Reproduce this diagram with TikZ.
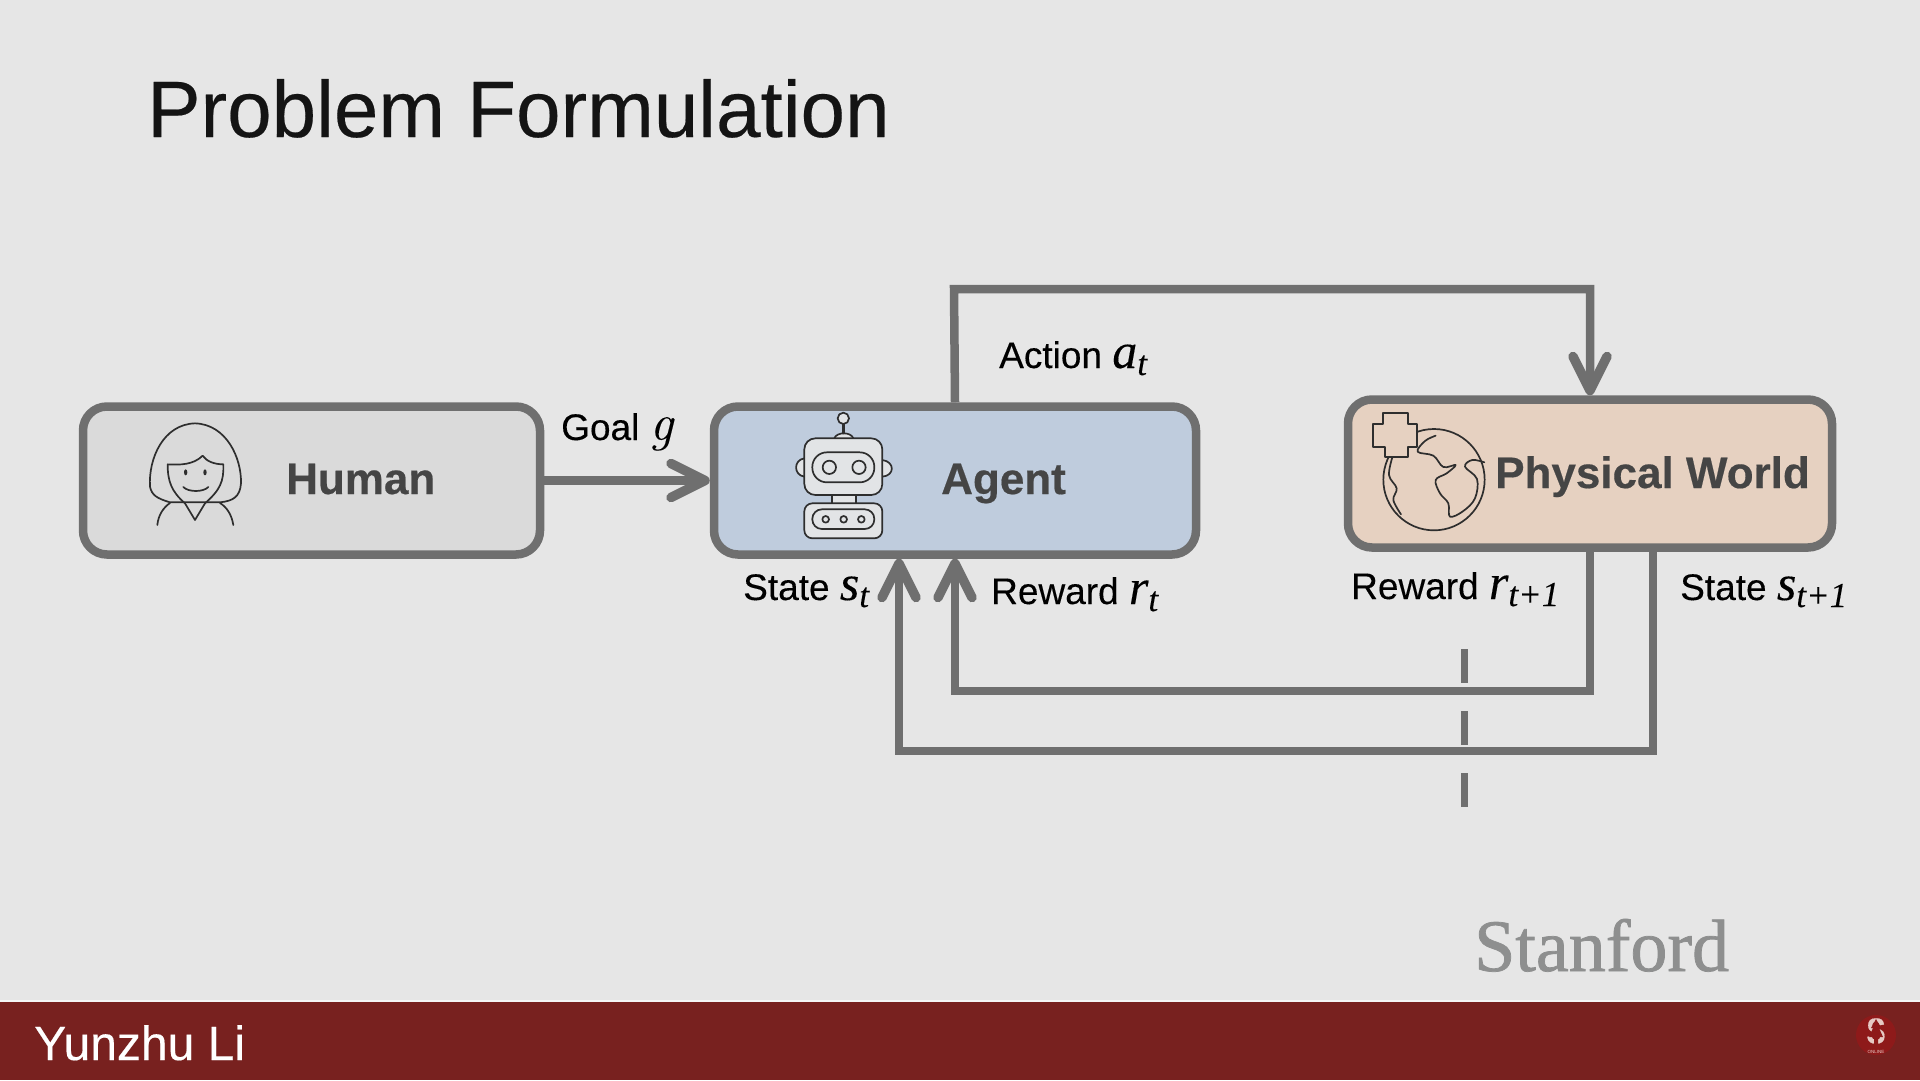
\documentclass[tikz,border=0pt]{standalone}
\usepackage{fontspec}
\setmainfont{Liberation Sans}[FakeBold=0.25]
\newfontfamily\plainsans{Liberation Sans}
\newfontfamily\boldsans{Liberation Sans Bold}[FakeBold=0.4]
\newfontfamily\serf{Liberation Serif}[FakeBold=0.2]
\newfontfamily\stanf{Liberation Serif}[FakeBold=1.0]
\newfontfamily\lmrit{Latin Modern Roman}[FakeBold=0.2]
\usetikzlibrary{arrows.meta}
\definecolor{bgc}{HTML}{E6E6E6}
\definecolor{linec}{HTML}{6F6F6F}
\definecolor{humanf}{HTML}{DADADA}
\definecolor{agentf}{HTML}{BFCCDD}
\definecolor{worldf}{HTML}{E6D1C1}
\definecolor{barc}{HTML}{78211F}
\definecolor{inkc}{HTML}{2E2E2E}
\definecolor{boldc}{HTML}{454545}
\definecolor{robotf}{HTML}{E2E4E6}
\definecolor{logoc}{HTML}{8E1A1A}
\definecolor{logos}{HTML}{E6C9C4}
\definecolor{stanc}{HTML}{8E8F8F}
\newcommand{\fsz}[1]{\fontsize{#1}{#1}\selectfont}
\newcommand{\mvar}[2]{{\serf\itshape\fsz{50}#1}\raisebox{-7pt}{\serf\itshape\fsz{35}#2}}
\tikzset{
  box/.style={draw=linec,line width=8.5pt,rounded corners=24pt,minimum height=148pt,inner sep=0pt},
  conn/.style={draw=linec,line width=8.5pt},
  tip/.style={-{Straight Barb[length=34pt,width=34pt,line width=9.5pt,round]}},
  boxtext/.style={font=\boldsans\fsz{44},text=boldc,anchor=base west,inner sep=0pt},
  lbl/.style={font=\fsz{37},text=black,anchor=base west,inner sep=0pt},
  icon/.style={draw=inkc,line width=1.7pt,line cap=round,line join=round},
}
\begin{document}
\begin{tikzpicture}[x=1pt,y=-1pt]
\useasboundingbox (0,0) rectangle (1920,1080);
\fill[bgc] (0,0) rectangle (1920,1080);
\fill[barc] (0,1002) rectangle (1920,1080);
\fill[white,opacity=.6] (0,1000) rectangle (1920,1002);
\node[font=\fsz{80},anchor=base west,inner sep=0pt,text=black!92] (title) at (147,137) {Problem Formulation};
\node[font=\fsz{48},anchor=base west,inner sep=0pt,text=white] (speaker) at (34,1060) {Yunzhu Li};
\node[font=\stanf\fsz{74},anchor=base west,inner sep=0pt,text=stanc] (stanford) at (1474,971) {Stanford};
\node[circle,fill=logoc,minimum size=40pt,inner sep=0pt] (logo) at (1876,1035) {};
\node[font=\boldsans\fsz{36},text=logos,inner sep=0pt,xscale=.8] (logoS) at (1876,1031) {S};
\fill[logoc] (1876,1019) -- (1881,1028) -- (1879,1028) -- (1883,1037) -- (1878,1037) -- (1878,1045) -- (1874,1045) -- (1874,1037) -- (1869,1037) -- (1873,1028) -- (1871,1028) -- cycle;
\node[font=\plainsans\fsz{4.5},text=logos,inner sep=0pt] (logoT) at (1876,1052) {ONLINE};

\node[box,fill=humanf,minimum width=457pt] (human) at (311.5,480.5) {};
\node[box,fill=agentf,minimum width=482pt] (agent) at (955,480.5) {};
\node[box,fill=worldf,minimum width=484pt] (world) at (1590,473.5) {};

\node[boxtext] (humant) at (286,494) {Human};
\node[boxtext] (agentt) at (941,494) {Agent};
\node[boxtext] (worldt) at (1495,488) {Physical World};

\coordinate (a1) at (954,289);
\coordinate (r1) at (1590,691);
\coordinate (s1) at (1653,751);
\coordinate (d1) at (1464,649);
\coordinate (d2) at (1464,808);
\draw[conn,tip] (human.east) -- (agent.west);
\draw[conn,tip] (agent.north) -- (a1) -| (world.north);
\draw[conn,tip] (world.south) -- (r1) -| (agent.south);
\draw[conn,tip] ([xshift=63pt]world.south) -- (s1) -| ([xshift=-56pt]agent.south);
\draw[conn,line width=7pt,dash pattern=on 34pt off 28pt] (d1) -- (d2);

\node[lbl] (lgoal) at (561,440) {Goal {\lmrit\itshape\fsz{52}g}};
\node[lbl] (laction) at (999,368) {Action \mvar{a}{t}};
\node[lbl] (lstate) at (743,600) {State \mvar{s}{t}};
\node[lbl] (lreward) at (991,604) {Reward \mvar{r}{t}};
\node[lbl] (lreward2) at (1351,599) {Reward \mvar{r}{t+1}};
\node[lbl] (lstate2) at (1680,600) {State \mvar{s}{t+1}};

% human icon
\begin{scope}[shift={(140,415)},x=.3333pt,y=-.3333pt,icon]
\draw (90,262) .. controls (50,250) and (35,240) .. (30,215) .. controls (25,130) and (70,28) .. (165,25) .. controls (260,28) and (305,130) .. (303,205) .. controls (300,245) and (280,258) .. (240,262) -- cycle;
\draw (83,148) .. controls (120,150) and (160,150) .. (188,122) .. controls (200,140) and (225,148) .. (250,148) .. controls (252,200) and (240,225) .. (195,265) -- (165,315) -- (135,265) .. controls (95,230) and (83,200) .. (83,148);
\draw (52,330) .. controls (55,300) and (70,278) .. (90,264);
\draw (280,330) .. controls (275,300) and (262,278) .. (240,264);
\draw (130,216) .. controls (145,232) and (190,232) .. (205,216);
\fill[inkc] (137,172) ellipse (5 and 9);
\fill[inkc] (195,172) ellipse (5 and 9);
\end{scope}

% robot icon
\begin{scope}[shift={(785,405)},x=.3333pt,y=-.3333pt,icon]
\draw[fill=robotf] (58,160) .. controls (25,165) and (25,210) .. (58,215);
\draw[fill=robotf] (292,165) .. controls (330,170) and (330,212) .. (292,215);
\draw[fill=robotf] (148,100) .. controls (155,80) and (198,80) .. (205,100);
\draw[line width=2.6pt] (175,57) -- (175,84);
\draw[fill=robotf] (175,40) circle (17);
\draw[fill=robotf] (142,268) rectangle (212,297);
\draw[fill=robotf,rounded corners=11pt] (58,100) rectangle (292,270);
\draw[fill=robotf,rounded corners=14.5pt] (82,142) rectangle (268,232);
\draw (133,187) circle (20);
\draw (222,187) circle (20);
\draw[fill=robotf,rounded corners=8pt] (58,295) rectangle (292,400);
\draw[fill=robotf,rounded corners=9.5pt] (82,313) rectangle (268,372);
\draw (122,343) circle (10);
\draw (176,343) circle (10);
\draw (229,343) circle (10);
\end{scope}

% globe icon
\begin{scope}[shift={(1365,405)},x=.3333pt,y=-.3333pt,icon]
\draw (207,224) circle (152);
\draw plot[smooth,tension=.6] coordinates {(212,92) (180,108) (158,140) (205,152) (235,186) (272,180) (245,205) (212,225) (225,265) (250,295) (255,335) (295,318) (330,280) (336,222) (300,185) (322,165) (358,172)};
\draw plot[smooth,tension=.6] coordinates {(84,150) (72,210) (95,250) (85,285) (108,328)};
\draw[fill=worldf] (55,25) -- (128,25) -- (128,58) -- (157,58) -- (157,125) -- (128,125) -- (128,157) -- (60,157) -- (60,125) -- (25,125) -- (25,58) -- (55,58) -- cycle;
\end{scope}
\end{tikzpicture}
\end{document}
